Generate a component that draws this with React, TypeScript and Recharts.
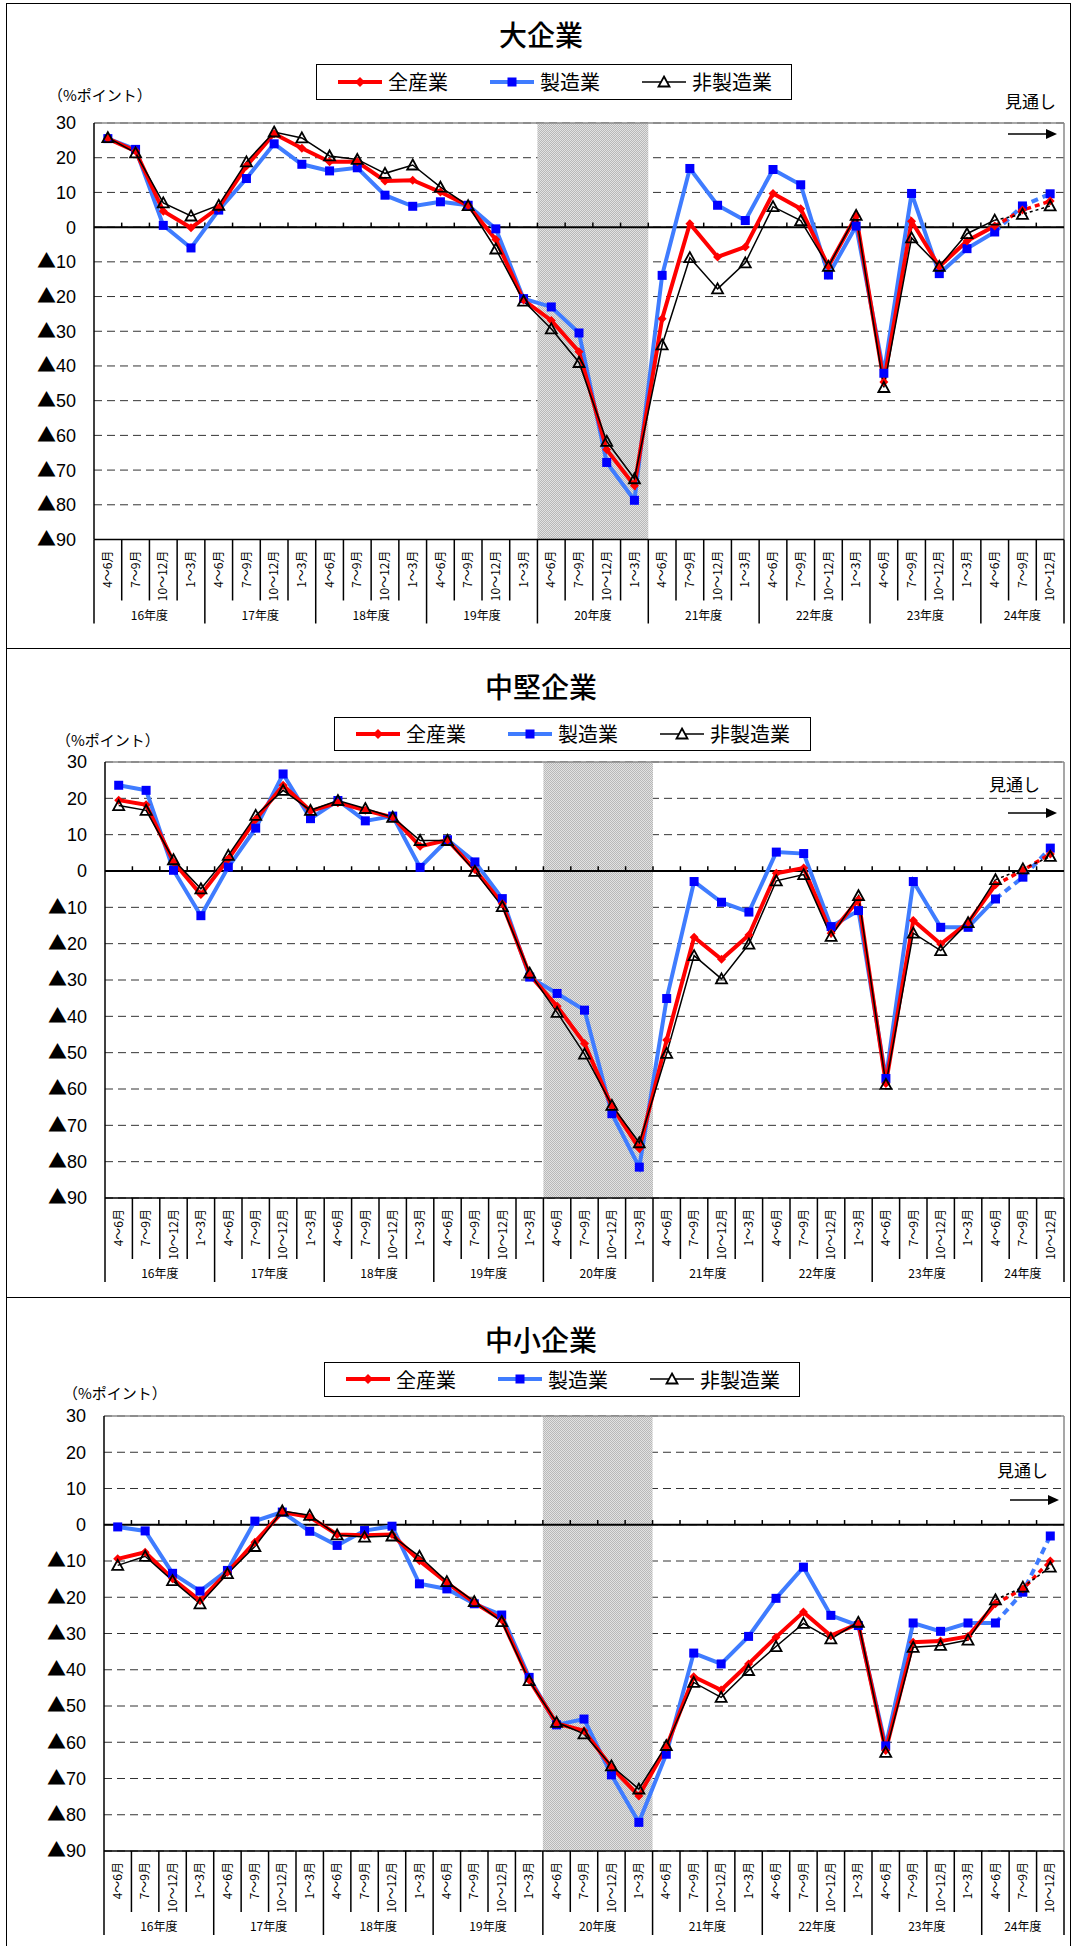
import React from "react";
import {
  LineChart,
  Line,
  XAxis,
  YAxis,
  CartesianGrid,
  ReferenceArea,
  ReferenceLine,
} from "recharts";

const years = ["16年度", "17年度", "18年度", "19年度", "20年度", "21年度", "22年度", "23年度", "24年度"];
const quarters = ["4～6月", "7～9月", "10～12月", "1～3月"];
const yTicks = [30, 20, 10, 0, -10, -20, -30, -40, -50, -60, -70, -80, -90];
const shadedYear = "20年度";
const lastActual = 32; // 24年度4～6月まで実績、以降は見通し

// 大企業
const largeAll = [25.5, 21.9, 4.6, -0.2, 5.6, 17.6, 26.9, 22.7, 18.8, 18.8, 13.3, 13.5, 10.1, 6.2, -3.6, -21.0, -26.9, -35.9, -64.1, -74.5, -26.4, 1.0, -8.6, -5.7, 9.7, 5.3, -11.3, 3.2, -44.6, 1.7, -11.4, -4.0, 0.3, 4.9, 7.5];
const largeMfg = [25.5, 22.4, 0.5, -6.0, 4.9, 14.0, 24.0, 18.1, 16.2, 17.1, 9.2, 6.0, 7.3, 6.3, -0.5, -20.6, -23.0, -30.5, -67.8, -78.7, -13.9, 16.9, 6.3, 1.9, 16.6, 12.2, -13.8, 0.3, -42.1, 9.7, -13.4, -6.2, -1.4, 6.1, 9.6];
const largeNon = [25.8, 21.4, 7.0, 3.2, 6.3, 18.8, 27.4, 25.7, 20.5, 19.5, 15.5, 17.9, 11.5, 6.2, -6.3, -21.3, -29.3, -39.0, -61.7, -72.5, -33.9, -8.8, -17.8, -10.3, 5.9, 1.9, -11.3, 3.4, -46.2, -3.1, -11.3, -1.9, 2.0, 3.7, 6.1];

// 中堅企業
const midAll = [19.5, 18.2, 2.5, -6.5, 3.3, 14.2, 23.6, 16.5, 18.8, 16.7, 14.8, 6.8, 8.5, 0.4, -9.0, -28.6, -37.2, -47.5, -64.8, -76.4, -46.5, -18.2, -24.3, -17.6, -0.6, 0.8, -17.1, -7.9, -58.5, -13.6, -20.1, -14.2, -3.8, 0.2, 4.7];
const midMfg = [23.6, 22.2, 0.2, -12.3, 1.1, 11.8, 26.7, 14.4, 19.4, 13.8, 15.1, 1.0, 8.6, 2.5, -7.6, -29.2, -33.7, -38.3, -66.8, -81.5, -35.1, -2.9, -8.6, -11.3, 5.2, 4.8, -15.3, -10.9, -57.1, -2.9, -15.5, -15.5, -7.7, -1.7, 6.3];
const midNon = [18.0, 16.7, 3.1, -4.9, 4.3, 15.3, 22.2, 16.7, 19.4, 17.2, 14.8, 8.4, 8.4, -0.1, -9.8, -28.1, -38.9, -50.4, -64.5, -74.8, -50.2, -23.3, -29.7, -20.1, -2.7, -1.0, -18.0, -6.8, -58.7, -17.1, -21.9, -14.2, -2.4, 0.6, 4.0];

// 中小企業
const smallAll = [-9.4, -7.6, -14.9, -20.9, -13.1, -4.8, 3.5, 2.1, -2.7, -2.9, -2.7, -9.9, -16.0, -21.5, -26.2, -42.8, -54.8, -56.8, -66.9, -74.8, -61.4, -41.9, -45.6, -38.4, -31.0, -24.1, -30.6, -27.3, -62.3, -32.4, -32.1, -30.8, -21.8, -17.7, -10.0];
const smallMfg = [-0.6, -1.7, -13.4, -18.3, -12.6, 1.0, 3.5, -1.8, -5.7, -1.6, -0.4, -16.3, -17.7, -21.8, -24.9, -42.1, -55.2, -53.6, -69.0, -82.1, -63.3, -35.4, -38.4, -30.8, -20.3, -11.7, -25.0, -27.8, -61.0, -27.1, -29.4, -27.1, -27.1, -18.6, -3.1];
const smallNon = [-11.2, -8.7, -15.4, -21.8, -13.5, -6.0, 3.8, 2.6, -2.8, -3.4, -3.1, -8.7, -15.7, -21.2, -26.7, -43.0, -54.5, -57.7, -66.5, -72.9, -60.9, -43.5, -47.6, -40.2, -33.6, -27.2, -31.5, -26.9, -62.8, -33.8, -33.3, -31.8, -20.7, -17.2, -11.7];

const periods = years
  .flatMap((y) => quarters.map((q) => ({ year: y, quarter: q })))
  .slice(0, largeAll.length);

const RED = "#ff0000";
const BLUE_LINE = "#3f7cff";
const BLUE_MARK = "#0000ff";
const JP = '"Noto Sans CJK JP", sans-serif';
const NUM = '"Liberation Sans", Arial, sans-serif';

const shadeIdx = periods.map((p, i) => (p.year === shadedYear ? i : -1)).filter((i) => i >= 0);
const boundaries = periods.slice(1).map((_, i) => i + 0.5);

const buildRows = (all: number[], mfg: number[], non: number[]) =>
  periods.map((p, i) => ({
    i,
    all: i <= lastActual ? all[i] : null,
    mfg: i <= lastActual ? mfg[i] : null,
    non: i <= lastActual ? non[i] : null,
    allF: i >= lastActual ? all[i] : null,
    mfgF: i >= lastActual ? mfg[i] : null,
    nonF: i >= lastActual ? non[i] : null,
  }));

const hide = (p: any, forecast: boolean) =>
  p.cx == null || p.cy == null || isNaN(p.cy) || p.value == null || (forecast && p.index === lastActual);

const diamondDot = (forecast: boolean) => (p: any) => {
  const k = `d${forecast ? "f" : ""}-${p.index}`;
  if (hide(p, forecast)) return <g key={k} />;
  const { cx, cy } = p;
  const r = 4.5;
  return <path key={k} d={`M${cx} ${cy - r}L${cx + r} ${cy}L${cx} ${cy + r}L${cx - r} ${cy}Z`} fill={RED} />;
};

const squareDot = (forecast: boolean) => (p: any) => {
  const k = `s${forecast ? "f" : ""}-${p.index}`;
  if (hide(p, forecast)) return <g key={k} />;
  return <rect key={k} x={p.cx - 4.5} y={p.cy - 4.5} width={9} height={9} fill={BLUE_MARK} />;
};

const triangleDot = (forecast: boolean) => (p: any) => {
  const k = `t${forecast ? "f" : ""}-${p.index}`;
  if (hide(p, forecast)) return <g key={k} />;
  const { cx, cy } = p;
  return (
    <path
      key={k}
      d={`M${cx} ${cy - 5.5}L${cx + 5.5} ${cy + 4.5}L${cx - 5.5} ${cy + 4.5}Z`}
      fill="none"
      stroke="#000"
      strokeWidth={1.8}
    />
  );
};

function ValueTick(props: any) {
  const { x, y, payload } = props;
  const v = payload.value as number;
  return (
    <text x={x} y={y} textAnchor="end" dy="0.36em" fontSize={18} fontFamily={NUM} fill="#000">
      {v < 0 && (
        <tspan fontFamily={JP} fontSize={19}>
          ▲
        </tspan>
      )}
      <tspan>{Math.abs(v)}</tspan>
    </text>
  );
}

function QuarterTick(props: any) {
  const { x, y, payload, cw } = props;
  const i = payload.value;
  const p = periods[i];
  if (!p) return <g />;
  const qi = quarters.indexOf(p.quarter);
  const left = x - cw / 2;
  const yearCount = periods.filter((q) => q.year === p.year).length;
  const isLast = i === periods.length - 1;
  return (
    <g>
      <text
        transform={`translate(${x},${y + 11}) rotate(-90)`}
        textAnchor="end"
        dy="0.35em"
        fontSize={12}
        fontFamily={JP}
        fill="#000"
      >
        {p.quarter}
      </text>
      <line x1={left} x2={left} y1={y} y2={y + (qi === 0 ? 84 : 61)} stroke="#000" strokeWidth={1.5} />
      {isLast && <line x1={x + cw / 2} x2={x + cw / 2} y1={y} y2={y + 84} stroke="#000" strokeWidth={1.5} />}
      {qi === 0 && (
        <text
          x={left + (cw * yearCount) / 2}
          y={y + 76}
          textAnchor="middle"
          dy="0.35em"
          fontSize={12}
          fontFamily={JP}
          fill="#000"
        >
          {p.year}
        </text>
      )}
    </g>
  );
}

function LegendIcon({ kind }: { kind: string }) {
  if (kind === "all")
    return (
      <svg width={44} height={20}>
        <line x1={0} x2={44} y1={10} y2={10} stroke={RED} strokeWidth={4} />
        <path d="M22 5L27 10L22 15L17 10Z" fill={RED} />
      </svg>
    );
  if (kind === "mfg")
    return (
      <svg width={44} height={20}>
        <line x1={0} x2={44} y1={10} y2={10} stroke={BLUE_LINE} strokeWidth={4} />
        <rect x={17.5} y={5.5} width={9} height={9} fill={BLUE_MARK} />
      </svg>
    );
  return (
    <svg width={44} height={20}>
      <line x1={0} x2={44} y1={10} y2={10} stroke="#000" strokeWidth={1.5} />
      <path d="M22 4.5L27.5 14.5L16.5 14.5Z" fill="#fff" stroke="#000" strokeWidth={1.8} />
    </svg>
  );
}

const legendItems = [
  { kind: "all", label: "全産業", x: 21 },
  { kind: "mfg", label: "製造業", x: 173 },
  { kind: "non", label: "非製造業", x: 325 },
];

interface PanelProps {
  title: string;
  all: number[];
  mfg: number[];
  non: number[];
  top: number;
  height: number;
  plotLeft: number;
  plotRight: number;
  plotTop: number;
  plotBottom: number;
  titleY: number;
  legend: { left: number; top: number; width: number; height: number };
  unit: { x: number; y: number };
  outlook: { x: number; y: number; arrowY: number; arrowX: number };
  id: string;
}

function Panel(cfg: PanelProps) {
  const data = buildRows(cfg.all, cfg.mfg, cfg.non);
  const chartTop = cfg.plotTop - 10;
  const axisH = 95;
  const chartH = cfg.plotBottom - cfg.plotTop + 10 + axisH;
  const cw = (cfg.plotRight - cfg.plotLeft) / periods.length;
  return (
    <>
      <div
        style={{
          position: "absolute",
          left: 6,
          top: cfg.top,
          width: 1065,
          height: cfg.height,
          border: "1.5px solid #000",
          boxSizing: "border-box",
        }}
      />
      <div
        style={{
          position: "absolute",
          left: 436,
          width: 210,
          top: cfg.titleY - 18,
          height: 36,
          lineHeight: "36px",
          textAlign: "center",
          fontFamily: JP,
          fontSize: 28,
          fontWeight: 500,
        }}
      >
        {cfg.title}
      </div>
      <div
        style={{
          position: "absolute",
          left: cfg.legend.left,
          top: cfg.legend.top,
          width: cfg.legend.width,
          height: cfg.legend.height,
          border: "1.5px solid #000",
          boxSizing: "border-box",
          background: "#fff",
        }}
      >
        {legendItems.map((it) => (
          <div
            key={it.kind}
            style={{
              position: "absolute",
              left: it.x,
              top: 0,
              height: cfg.legend.height - 3,
              display: "flex",
              alignItems: "center",
              gap: 6,
              fontFamily: JP,
              fontSize: 20,
            }}
          >
            <LegendIcon kind={it.kind} />
            <span>{it.label}</span>
          </div>
        ))}
      </div>
      <div
        style={{
          position: "absolute",
          left: cfg.unit.x,
          top: cfg.unit.y - 11,
          lineHeight: "22px",
          fontFamily: JP,
          fontSize: 15,
          whiteSpace: "nowrap",
        }}
      >
        （%ポイント）
      </div>
      <div style={{ position: "absolute", left: 0, top: chartTop }}>
        <LineChart
          width={1072}
          height={chartH}
          data={data}
          margin={{ top: 10, right: 1072 - cfg.plotRight, left: 0, bottom: 0 }}
        >
          <defs>
            <pattern id={`dots-${cfg.id}`} width={2} height={2} patternUnits="userSpaceOnUse">
              <rect width={2} height={2} fill="#e2e2e2" />
              <rect width={1} height={1} fill="#b8b8b8" />
              <rect x={1} y={1} width={1} height={1} fill="#b8b8b8" />
            </pattern>
          </defs>
          <CartesianGrid vertical={false} stroke="#333" strokeDasharray="8 5" />
          <XAxis
            type="number"
            dataKey="i"
            domain={[-0.5, periods.length - 0.5]}
            ticks={periods.map((_, i) => i)}
            interval={0}
            height={axisH}
            tickSize={0}
            tickMargin={0}
            tickLine={false}
            axisLine={{ stroke: "#000", strokeWidth: 1.5 }}
            tick={(props: any) => <QuarterTick {...props} cw={cw} />}
          />
          <YAxis
            domain={[-90, 30]}
            ticks={yTicks}
            interval={0}
            width={cfg.plotLeft}
            tickSize={0}
            tickMargin={18}
            tickLine={false}
            tick={(props: any) => <ValueTick {...props} />}
            axisLine={{ stroke: "#000", strokeWidth: 1.5 }}
          />
          <ReferenceArea
            x1={shadeIdx[0] - 0.5}
            x2={shadeIdx[shadeIdx.length - 1] + 0.5}
            y1={-90}
            y2={30}
            fill={`url(#dots-${cfg.id})`}
            fillOpacity={1}
            stroke="none"
          />
          <ReferenceLine y={30} stroke="#8a8a8a" strokeWidth={1.5} />
          <ReferenceLine x={periods.length - 0.5} stroke="#8a8a8a" strokeWidth={1.5} />
          <ReferenceLine y={0} stroke="#000" strokeWidth={2} />
          {boundaries.map((b) => (
            <ReferenceLine
              key={`b-${b}`}
              segment={[
                { x: b, y: 0 },
                { x: b, y: 1.3 },
              ]}
              stroke="#000"
              strokeWidth={1.5}
            />
          ))}
          <Line dataKey="mfg" stroke={BLUE_LINE} strokeWidth={4} dot={squareDot(false)} activeDot={false} isAnimationActive={false} />
          <Line dataKey="mfgF" stroke={BLUE_LINE} strokeWidth={4} strokeDasharray="7 5" dot={squareDot(true)} activeDot={false} isAnimationActive={false} />
          <Line dataKey="all" stroke={RED} strokeWidth={4} dot={diamondDot(false)} activeDot={false} isAnimationActive={false} />
          <Line dataKey="allF" stroke={RED} strokeWidth={3.5} strokeDasharray="5 4" dot={diamondDot(true)} activeDot={false} isAnimationActive={false} />
          <Line dataKey="non" stroke="#000" strokeWidth={1.5} dot={triangleDot(false)} activeDot={false} isAnimationActive={false} />
          <Line dataKey="nonF" stroke="#000" strokeWidth={1.5} strokeDasharray="3 3" dot={triangleDot(true)} activeDot={false} isAnimationActive={false} />
        </LineChart>
      </div>
      <div
        style={{
          position: "absolute",
          left: cfg.outlook.x,
          top: cfg.outlook.y - 12,
          lineHeight: "24px",
          fontFamily: JP,
          fontSize: 17,
          whiteSpace: "nowrap",
        }}
      >
        見通し
      </div>
      <svg
        style={{ position: "absolute", left: cfg.outlook.arrowX, top: cfg.outlook.arrowY - 6 }}
        width={50}
        height={12}
      >
        <line x1={0} x2={40} y1={6} y2={6} stroke="#000" strokeWidth={1.5} />
        <path d="M38 1L49 6L38 11Z" fill="#000" />
      </svg>
    </>
  );
}

export default function App() {
  return (
    <div style={{ position: "relative", width: 1072, height: 1946, background: "#fff", overflow: "hidden" }}>
      <style>{"body{margin:0}"}</style>
      <Panel
        id="l"
        title="大企業"
        all={largeAll}
        mfg={largeMfg}
        non={largeNon}
        top={3}
        height={646}
        plotLeft={94}
        plotRight={1064}
        plotTop={123}
        plotBottom={539.5}
        titleY={34}
        legend={{ left: 316, top: 64, width: 476, height: 36 }}
        unit={{ x: 48, y: 95 }}
        outlook={{ x: 1005, y: 101, arrowY: 134, arrowX: 1008 }}
      />
      <Panel
        id="m"
        title="中堅企業"
        all={midAll}
        mfg={midMfg}
        non={midNon}
        top={648}
        height={650}
        plotLeft={105}
        plotRight={1064}
        plotTop={762}
        plotBottom={1198}
        titleY={686}
        legend={{ left: 334, top: 717, width: 477, height: 34 }}
        unit={{ x: 56, y: 740 }}
        outlook={{ x: 989, y: 784, arrowY: 813, arrowX: 1008 }}
      />
      <Panel
        id="s"
        title="中小企業"
        all={smallAll}
        mfg={smallMfg}
        non={smallNon}
        top={1297}
        height={652}
        plotLeft={104}
        plotRight={1064}
        plotTop={1416}
        plotBottom={1851}
        titleY={1339}
        legend={{ left: 324, top: 1362, width: 476, height: 35 }}
        unit={{ x: 63, y: 1393 }}
        outlook={{ x: 997, y: 1470, arrowY: 1500, arrowX: 1010 }}
      />
    </div>
  );
}
